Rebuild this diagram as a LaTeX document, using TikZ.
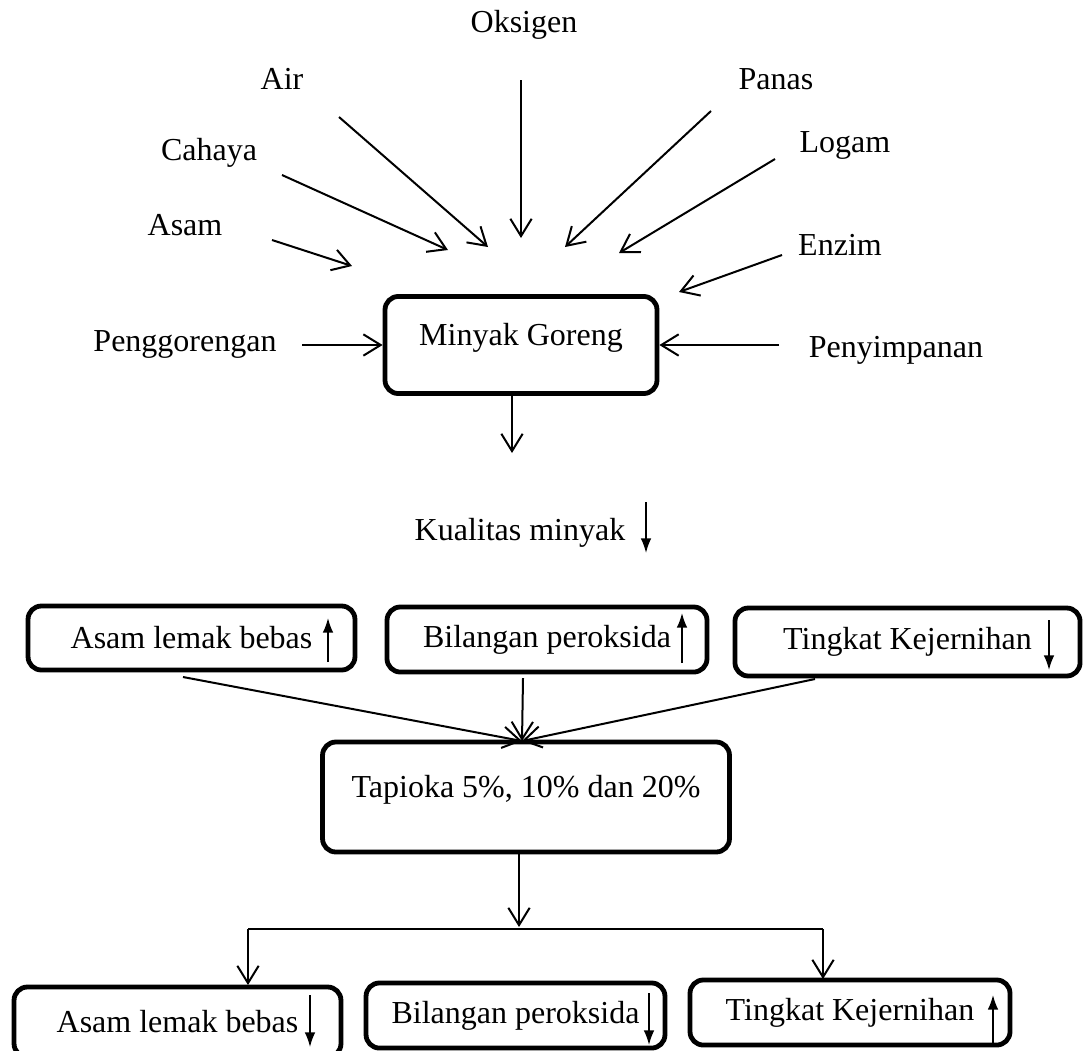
\documentclass[tikz,border=0pt]{standalone}
\usepackage{fontspec}
\setmainfont{Liberation Serif}
\usetikzlibrary{shapes,arrows,arrows.meta,calc}
\tikzstyle{line} = [draw, line width=0.75pt, -{Straight Barb[length=6.5pt,width=8pt]}]
\tikzstyle{plain} = [draw, line width=0.75pt]
\tikzstyle{trend} = [draw, line width=0.6pt, -{Latex[length=5.5pt,width=4pt]}]
\tikzstyle{factor} = [inner sep=0pt]
\tikzstyle{block} = [draw, rectangle, text centered, rounded corners=5pt, line width=1.8pt, inner sep=0pt]
\tikzstyle{tall} = [text height=8pt, text depth=8pt]

\begin{document}
\begin{tikzpicture}[x=0.375pt, y=-0.375pt, font=\fontsize{12pt}{14pt}\selectfont]
        \useasboundingbox (0,0) rectangle (1087,1050);
        % factors around the oil
        \node[factor] (oksigen) at (524,25) {Oksigen};
        \node[factor] (air) at (282,79) {Air};
        \node[factor] (panas) at (776,79) {Panas};
        \node[factor] (cahaya) at (209,153) {Cahaya};
        \node[factor] (logam) at (845,145) {Logam};
        \node[factor] (asam) at (185,225) {Asam};
        \node[factor] (enzim) at (840,245) {Enzim};
        \node[factor] (goreng) at (185,344) {Penggorengan};
        \node[factor] (simpan) at (896,350) {Penyimpanan};
        \node[block, tall, minimum width=102pt, minimum height=36.4pt] (minyak) at (521,345) {Minyak Goreng};
        \node[factor] (kualitas) at (520,533) {Kualitas minyak};
        % quality parameters
        \node[block, minimum width=122.6pt, minimum height=24pt] (bebas) at (191.5,638) {Asam lemak bebas};
        \node[block, minimum width=120pt, minimum height=24.4pt] (peroks) at (547,639.5) {Bilangan peroksida};
        \node[block, minimum width=129.4pt, minimum height=25.5pt] (jernih) at (907.5,642) {Tingkat Kejernihan};
        \node[block, tall, minimum width=152.6pt, minimum height=41.25pt] (tapioka) at (526,797) {Tapioka 5\%, 10\% dan 20\%};
        \node[block, minimum width=122.6pt, minimum height=26.25pt] (bebasB) at (177.5,1022) {Asam lemak bebas};
        \node[block, minimum width=112.1pt, minimum height=24.4pt] (peroksB) at (515.5,1015.5) {Bilangan peroksida};
        \node[block, minimum width=120pt, minimum height=24.4pt] (jernihB) at (850,1012.5) {Tingkat Kejernihan};
        % free ends
        \coordinate (asamA) at (272,240);   \coordinate (asamB) at (352,266);
        \coordinate (cahayaA) at (282,175); \coordinate (cahayaB) at (448,250);
        \coordinate (airA) at (339,117);    \coordinate (airB) at (488,247);
        \coordinate (oksA) at (521,80);     \coordinate (oksB) at (521,238);
        \coordinate (panasA) at (711,111);  \coordinate (panasB) at (565,247);
        \coordinate (logamA) at (775,159);  \coordinate (logamB) at (619,253);
        \coordinate (enzimA) at (782,255);  \coordinate (enzimB) at (679,292);
        \coordinate (gorengA) at (302,345);
        \coordinate (simpanA) at (779,345);
        \coordinate (minyakA) at (512,394); \coordinate (minyakB) at (512,453);
        \coordinate (bebasA) at (183,677);
        \coordinate (peroksA) at (523,678);
        \coordinate (jernihA) at (815,679);
        \coordinate (meet) at (522,741);
        \coordinate (tapA) at (519,852);    \coordinate (tapB) at (519,927);
        \coordinate (splitL) at (248,929);  \coordinate (splitR) at (823,929);
        \coordinate (downL) at (248,985);   \coordinate (downR) at (823,979);
        \path[line] (asamA) -- (asamB);
        \path[line] (cahayaA) -- (cahayaB);
        \path[line] (airA) -- (airB);
        \path[line] (oksA) -- (oksB);
        \path[line] (panasA) -- (panasB);
        \path[line] (logamA) -- (logamB);
        \path[line] (enzimA) -- (enzimB);
        \path[line] (gorengA) -- (minyak.west);
        \path[line] (simpanA) -- (minyak.east);
        \path[line] (minyakA) -- (minyakB);
        \path[line] (bebasA) -- (meet);
        \path[line] (peroksA) -- (meet);
        \path[line] (jernihA) -- (meet);
        \path[line] (tapA) -- (tapB);
        \path[plain] (splitL) -- (splitR);
        \path[line] (splitL) -- (downL);
        \path[line] (splitR) -- (downR);
        % up / down marks
        \path[trend] (646,502) -- (646,553);
        \path[trend] (328,662) -- (328,618);
        \path[trend] (682,663) -- (682,613);
        \path[trend] (1049,620) -- (1049,670);
        \path[trend] (310,995) -- (310,1047);
        \path[trend] (649,993) -- (649,1045);
        \path[trend] (993,1045) -- (993,995);
    \end{tikzpicture}
\end{document}
